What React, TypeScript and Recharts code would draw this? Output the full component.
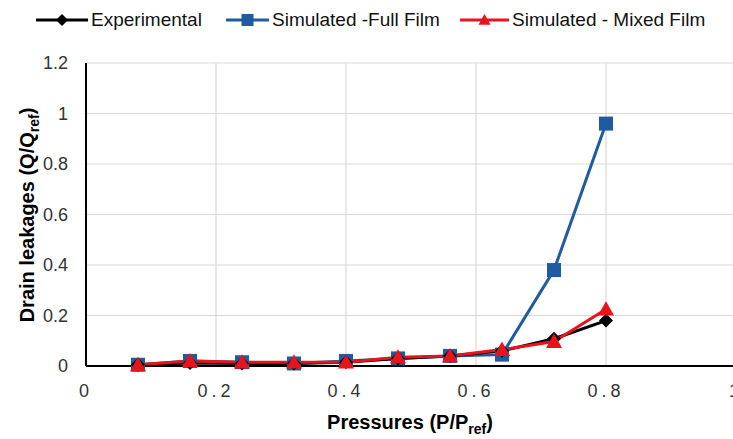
import React from "react";
import { LineChart, Line, XAxis, YAxis, CartesianGrid } from "recharts";

const pressures = [0.08, 0.16, 0.24, 0.32, 0.4, 0.48, 0.56, 0.64, 0.72, 0.8];
const experimental = [0.005, 0.012, 0.01, 0.01, 0.015, 0.03, 0.04, 0.06, 0.108, 0.18];
const fullFilm = [0.005, 0.02, 0.015, 0.01, 0.02, 0.03, 0.04, 0.045, 0.38, 0.96];
const mixedFilm = [0.005, 0.02, 0.015, 0.015, 0.015, 0.035, 0.04, 0.065, 0.097, 0.225];
const xTicks = [0, 0.2, 0.4, 0.6, 0.8, 1];
const yTicks = [0, 0.2, 0.4, 0.6, 0.8, 1, 1.2];

const data = pressures.map((p, i) => ({
  p,
  exp: experimental[i],
  full: fullFilm[i],
  mixed: mixedFilm[i],
}));

const BLACK = "#000000";
const BLUE = "#1f5b9e";
const RED = "#e8141b";
const FONT = "'Liberation Sans', Arial, sans-serif";

const Diamond = ({ cx, cy, color = BLACK, s = 6 }: any) => (
  <polygon points={`${cx},${cy - s} ${cx + s},${cy} ${cx},${cy + s} ${cx - s},${cy}`} fill={color} />
);
const Square = ({ cx, cy, color = BLUE, s = 6 }: any) => (
  <rect x={cx - s} y={cy - s} width={s * 2} height={s * 2} fill={color} />
);
const Triangle = ({ cx, cy, color = RED, s = 7 }: any) => (
  <polygon points={`${cx},${cy - s} ${cx + s},${cy + s * 0.8} ${cx - s},${cy + s * 0.8}`} fill={color} />
);

const legendItems = [
  { label: "Experimental", color: BLACK, icon: Diamond, iconX: 36, textX: 91 },
  { label: "Simulated -Full Film", color: BLUE, icon: Square, iconX: 226, textX: 272 },
  { label: "Simulated - Mixed Film", color: RED, icon: Triangle, iconX: 460, textX: 512 },
];

const ChartLegend = () => (
  <div style={{ position: "absolute", left: 0, top: 8, width: 733, height: 30 }}>
    {legendItems.map((it) => {
      const Icon = it.icon;
      const w = it.textX - it.iconX - 3;
      return (
        <React.Fragment key={it.label}>
          <svg style={{ position: "absolute", left: it.iconX, top: 2 }} width={w} height={20}>
            <line x1={0} y1={10} x2={w} y2={10} stroke={it.color} strokeWidth={3} />
            <Icon cx={w / 2} cy={10} color={it.color} s={6} />
          </svg>
          <span
            style={{
              position: "absolute", left: it.textX, top: 0,
              fontFamily: FONT, fontSize: 19, color: "#111", whiteSpace: "nowrap", lineHeight: "24px",
            }}
          >
            {it.label}
          </span>
        </React.Fragment>
      );
    })}
  </div>
);

const XTitle = ({ viewBox }: any) => {
  const cx = 410;
  const y = viewBox.y + 63;
  return (
    <text x={cx} y={y} textAnchor="middle" fontFamily={FONT} fontSize={20} fontWeight="bold" fill="#000">
      Pressures (P/P<tspan fontSize={14} dy={5}>ref</tspan><tspan dy={-5}>)</tspan>
    </text>
  );
};

const YTitle = () => {
  const x = 34;
  const y = 215;
  return (
    <text x={x} y={y} textAnchor="middle" transform={`rotate(-90, ${x}, ${y})`}
      fontFamily={FONT} fontSize={20} fontWeight="bold" fill="#000">
      Drain leakages (Q/Q<tspan fontSize={14} dy={5}>ref</tspan><tspan dy={-5}>)</tspan>
    </text>
  );
};

export default function App() {
  return (
    <div style={{ position: "absolute", left: 0, top: 0, width: 733, height: 439, overflow: "hidden", background: "#fff" }}>
      <LineChart width={760} height={439} data={data} margin={{ top: 63, right: 24, bottom: 43, left: 0 }}>
        <CartesianGrid stroke="#d9d9d9" strokeWidth={1.2} />
        <XAxis
          type="number" dataKey="p" domain={[0, 1]} ticks={xTicks}
          tickFormatter={(v) => String(v)}
          tick={{ fontSize: 18, fill: "#333", fontFamily: FONT, letterSpacing: 4 }}
          axisLine={{ stroke: "#000", strokeWidth: 2 }} tickLine={false} tickMargin={12}
          height={30}
          label={<XTitle />}
        />
        <YAxis
          type="number" domain={[0, 1.2]} ticks={yTicks}
          tickFormatter={(v) => String(v)}
          tick={{ fontSize: 18, fill: "#333", fontFamily: FONT }}
          axisLine={{ stroke: "#000", strokeWidth: 2 }} tickLine={false} tickMargin={12}
          width={86}
          label={<YTitle />}
        />
        <Line dataKey="full" stroke={BLUE} strokeWidth={3} isAnimationActive={false}
          dot={(p: any) => <Square key={`f${p.index}`} cx={p.cx} cy={p.cy} color={BLUE} s={7} />} />
        <Line dataKey="exp" stroke={BLACK} strokeWidth={3} isAnimationActive={false}
          dot={(p: any) => <Diamond key={`e${p.index}`} cx={p.cx} cy={p.cy} color={BLACK} s={7} />} />
        <Line dataKey="mixed" stroke={RED} strokeWidth={3} isAnimationActive={false}
          dot={(p: any) => <Triangle key={`m${p.index}`} cx={p.cx} cy={p.cy} color={RED} s={8} />} />
      </LineChart>
      <ChartLegend />
    </div>
  );
}
